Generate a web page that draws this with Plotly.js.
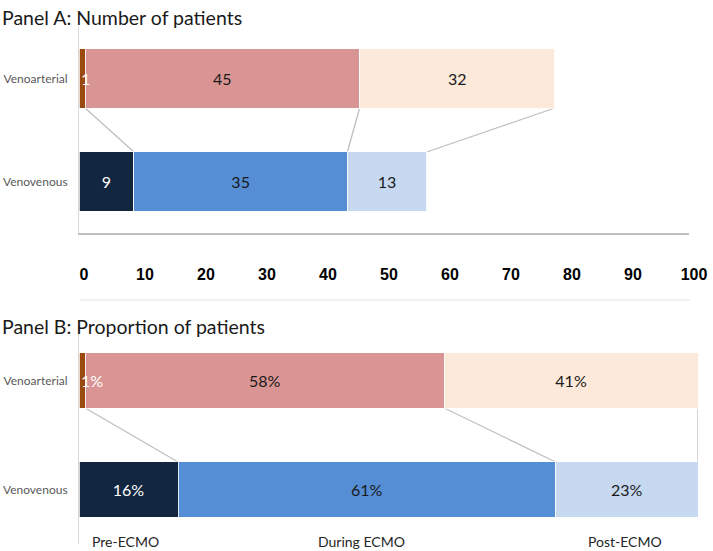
<!DOCTYPE html>
<html>
<head>
<meta charset="utf-8">
<script src="https://cdn.plot.ly/plotly-3.0.1.min.js"></script>
<style>html,body{margin:0;padding:0;background:#fff;}#chart{width:713px;height:551px;}</style>
</head>
<body>
<div id="chart"></div>
<script>
// ---- data ----
var categories = ['Venoarterial', 'Venovenous'];
var stages = ['Pre-ECMO', 'During ECMO', 'Post-ECMO'];
var countsVA = [1, 45, 32];
var countsVV = [9, 35, 13];
var pctVA = [1, 58, 41];
var pctVV = [16, 61, 23];
var xTicks = [0, 10, 20, 30, 40, 50, 60, 70, 80, 90, 100];
var stageLabelPos = [7.5, 45.7, 88.2];

// ---- styles ----
var colVA = ['#9B4A0F', '#D99594', '#FDE9D9'];
var colVV = ['#13263F', '#558ED5', '#C6D9F1'];
var txtVA = ['#ffffff', '#1a1a1a', '#1a1a1a'];
var txtVV = ['#ffffff', '#1a1a1a', '#1a1a1a'];
var wA = 0.573, wB = 0.505;
var barFont = 'Lato, Open Sans, sans-serif';
var annotations = [];

var traces = [];
function addPanel(va, vv, suffix, xa, ya, w, minInside) {
  for (var i = 0; i < stages.length; i++) {
    var vals = [va[i], vv[i]];
    var cols = [txtVA[i], txtVV[i]];
    var tp = [];
    for (var j = 0; j < vals.length; j++) {
      if (vals[j] < minInside) {
        tp.push('none');
        annotations.push({text: vals[j] + suffix, xref: xa, yref: ya, x: 0, y: j, xanchor: 'left', yanchor: 'middle',
          showarrow: false, font: {family: barFont, size: 16, color: cols[j]}});
      } else tp.push('inside');
    }
    traces.push({
      type: 'bar', orientation: 'h',
      name: stages[i],
      y: categories,
      x: vals,
      text: [va[i] + suffix, vv[i] + suffix],
      textposition: tp,
      insidetextanchor: 'middle',
      textangle: 0,
      constraintext: 'none',
      textfont: {family: barFont, size: 16, color: cols},
      marker: {color: [colVA[i], colVV[i]], line: {color: '#ffffff', width: 0.8}},
      width: w,
      xaxis: xa, yaxis: ya,
      hoverinfo: 'skip',
      showlegend: false
    });
  }
}
addPanel(countsVA, countsVV, '', 'x', 'y', wA, 3);
addPanel(pctVA, pctVV, '%', 'x2', 'y2', wB, 3);

function cum(a) { var s = 0, r = []; for (var i = 0; i < a.length; i++) { s += a[i]; r.push(s); } return r; }
var shapes = [];
function connectors(va, vv, xr, yr, w) {
  var ca = cum(va), cv = cum(vv);
  for (var i = 0; i < ca.length; i++) {
    shapes.push({type: 'line', xref: xr, yref: yr, x0: ca[i], y0: 0 + w / 2, x1: cv[i], y1: 1 - w / 2,
      line: {color: '#BFBFBF', width: 1.3}, layer: 'below'});
  }
}
connectors(countsVA, countsVV, 'x', 'y', wA);
connectors(pctVA, pctVV, 'x2', 'y2', wB);
// separator line between panels
shapes.push({type: 'line', xref: 'paper', yref: 'paper', x0: 80 / 713, x1: 690 / 713, y0: (551 - 300) / 551, y1: (551 - 300) / 551,
  line: {color: '#E4E4E4', width: 1.2}});

annotations.push(
  {text: 'Panel A: Number of patients', xref: 'paper', yref: 'paper', x: 0.0, y: (551 - 18) / 551,
   xanchor: 'left', yanchor: 'middle', showarrow: false, font: {family: 'Lato, sans-serif', size: 19.5, color: '#1a1a1a'}},
  {text: 'Panel B: Proportion of patients', xref: 'paper', yref: 'paper', x: 0.0, y: (551 - 326) / 551,
   xanchor: 'left', yanchor: 'middle', showarrow: false, font: {family: 'Lato, sans-serif', size: 19.5, color: '#1a1a1a'}}
);
for (var k = 0; k < stages.length; k++) {
  annotations.push({text: stages[k], xref: 'x2', yref: 'paper', x: stageLabelPos[k], y: (551 - 541) / 551,
    xanchor: 'center', yanchor: 'middle', showarrow: false, font: {family: barFont, size: 14, color: '#262626'}});
}

var layout = {
  width: 713, height: 551,
  margin: {l: 0, r: 0, t: 0, b: 0},
  paper_bgcolor: '#ffffff', plot_bgcolor: 'rgba(0,0,0,0)',
  barmode: 'stack',
  showlegend: false,
  xaxis: {domain: [79 / 713, 689 / 713], range: [0, 100], anchor: 'y',
    tickvals: xTicks, ticktext: xTicks.map(String), ticks: '', showgrid: false, zeroline: false,
    showline: true, linecolor: '#BFBFBF', linewidth: 2,
    ticklabelstandoff: 26, ticklabelshift: 5,
    tickfont: {family: 'Liberation Sans, Arial, sans-serif', size: 16, color: '#000000', weight: 'bold'}},
  yaxis: {domain: [(551 - 233) / 551, (551 - 27) / 551], range: [1.5, -0.5], anchor: 'x', type: 'category',
    showline: true, linecolor: '#D9D9D9', linewidth: 1, ticks: '', showgrid: false, zeroline: false,
    ticklabelstandoff: 8,
    tickfont: {family: barFont, size: 12, color: '#595959'}},
  xaxis2: {domain: [79 / 713, 698 / 713], range: [0, 100], anchor: 'y2',
    showticklabels: false, ticks: '', showgrid: false, zeroline: false, showline: false},
  yaxis2: {domain: [(551 - 544) / 551, (551 - 326) / 551], range: [1.5, -0.5], anchor: 'x2', type: 'category',
    showline: true, linecolor: '#D9D9D9', linewidth: 1, ticks: '', showgrid: false, zeroline: false,
    ticklabelstandoff: 8,
    tickfont: {family: barFont, size: 12, color: '#595959'}},
  shapes: shapes,
  annotations: annotations
};

Plotly.newPlot('chart', traces, layout, {staticPlot: true, displayModeBar: false});
</script>
</body>
</html>
